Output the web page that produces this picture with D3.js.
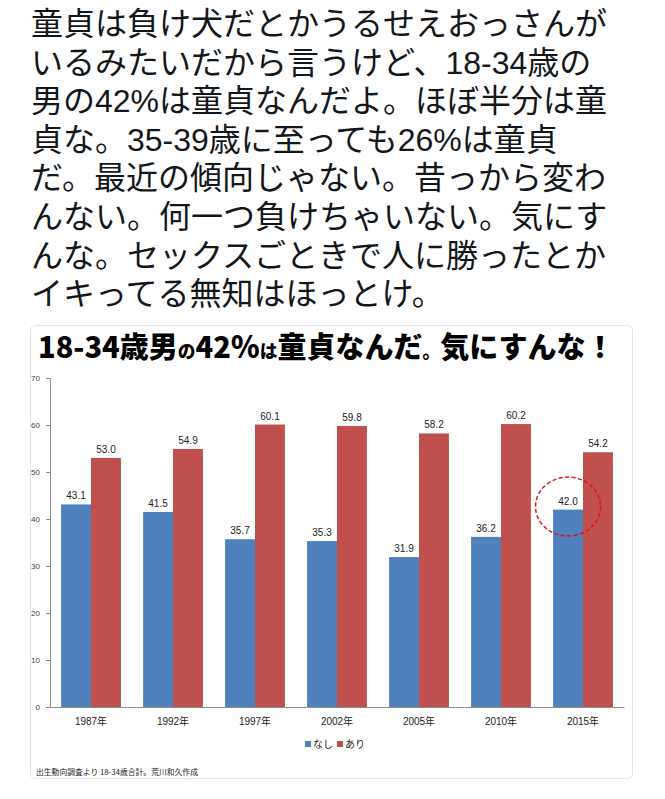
<!DOCTYPE html>
<html>
<head>
<meta charset="utf-8">
<script src="https://cdn.jsdelivr.net/npm/d3@7"></script>
<style>
  body { margin: 0; background: #fff; }
  svg { display: block; }
</style>
</head>
<body>
<div id="chart"></div>
<script>
// data
const years = ["1987年", "1992年", "1997年", "2002年", "2005年", "2010年", "2015年"];
const seriesNames = ["なし", "あり"];
const nashi = [43.1, 41.5, 35.7, 35.3, 31.9, 36.2, 42.0];
const ari = [53.0, 54.9, 60.1, 59.8, 58.2, 60.2, 54.2];
const yTicks = [0, 10, 20, 30, 40, 50, 60, 70];
const tweetLines = [
  "童貞は負け犬だとかうるせえおっさんが",
  "いるみたいだから言うけど、18-34歳の",
  "男の42%は童貞なんだよ。ほぼ半分は童",
  "貞な。35-39歳に至っても26%は童貞",
  "だ。最近の傾向じゃない。昔っから変わ",
  "んない。何一つ負けちゃいない。気にす",
  "んな。セックスごときで人に勝ったとか",
  "イキってる無知はほっとけ。"
];
const titleParts = [
  ["18-34歳男", "big"], ["の", "small"], ["42％", "big"], ["は", "small"],
  ["童貞なんだ", "big"], ["。", "small"], ["気にすんな！", "big"]
];
const sourceNote = "出生動向調査より  18-34歳合計。荒川和久作成";
const highlight = { year: "2015年", series: "なし" };

const w = 665;
const h = 799;
const plot = { left: 50, right: 624, top: 378, bottom: 707 };

const svg = d3.select("#chart")
  .append("svg")
  .attr("width", w)
  .attr("height", h);

// tweet text
svg.append("g")
  .selectAll("text")
  .data(tweetLines)
  .enter()
  .append("text")
  .attr("x", 31)
  .attr("y", (d, i) => 35 + i * 38.6)
  .attr("font-family", "'Liberation Sans', 'Noto Sans CJK JP', sans-serif")
  .attr("font-size", 32)
  .attr("fill", "#14171a")
  .text(d => d);

// card
svg.append("rect")
  .attr("x", 30.5)
  .attr("y", 325.5)
  .attr("width", 602)
  .attr("height", 453)
  .attr("rx", 5)
  .attr("fill", "#fff")
  .attr("stroke", "#dfe3e6");

// title
const title = svg.append("text")
  .attr("x", 38)
  .attr("y", 358)
  .attr("font-family", "'Noto Sans CJK JP', sans-serif")
  .attr("font-weight", 900)
  .attr("fill", "#000");

const tspans = title.selectAll("tspan")
  .data(titleParts)
  .enter()
  .append("tspan")
  .attr("font-size", d => d[1] == "big" ? 28 : 17)
  .text(d => d[0]);

// fit title to its width in the picture by font size
const k = 577 / title.node().getComputedTextLength();
tspans.attr("font-size", d => (d[1] == "big" ? 28 : 17) * k);

// scales
const x0 = d3.scaleBand()
  .domain(years)
  .range([plot.left, plot.right])
  .paddingInner(0.27)
  .paddingOuter(0.135);

const x1 = d3.scaleBand()
  .domain(seriesNames)
  .range([0, x0.bandwidth()]);

const yScale = d3.scaleLinear()
  .domain([0, 70])
  .range([plot.bottom, plot.top]);

const color = d3.scaleOrdinal()
  .domain(seriesNames)
  .range(["#4f81bd", "#c0504d"]);

// y axis
const yAxis = d3.axisLeft(yScale)
  .tickValues(yTicks)
  .tickSize(4)
  .tickPadding(6);

const gy = svg.append("g")
  .attr("transform", "translate(" + plot.left + ",0)")
  .call(yAxis);
gy.select(".domain").attr("stroke", "#8c8c8c");
gy.selectAll(".tick line").attr("stroke", "#8c8c8c");
gy.selectAll(".tick text")
  .attr("font-family", "'Liberation Sans', 'DejaVu Sans', sans-serif")
  .attr("font-size", 8)
  .attr("fill", "#404040");

// bars
const rows = years.map((yr, i) => ({ year: yr, values: [nashi[i], ari[i]] }));

const groups = svg.selectAll(".grp")
  .data(rows)
  .enter()
  .append("g")
  .attr("class", "grp")
  .attr("transform", d => "translate(" + x0(d.year) + ",0)");

const cells = groups.selectAll("g")
  .data(d => seriesNames.map((s, j) => ({ year: d.year, key: s, value: d.values[j] })))
  .enter()
  .append("g");

cells.append("rect")
  .attr("x", d => x1(d.key))
  .attr("y", d => yScale(d.value))
  .attr("width", x1.bandwidth())
  .attr("height", d => yScale(0) - yScale(d.value))
  .attr("fill", d => color(d.key));

cells.append("text")
  .attr("x", d => x1(d.key) + x1.bandwidth() / 2)
  .attr("y", d => yScale(d.value) - 5)
  .attr("text-anchor", "middle")
  .attr("font-family", "'Liberation Sans', 'DejaVu Sans', sans-serif")
  .attr("font-size", 10)
  .attr("fill", "#222")
  .text(d => d.value.toFixed(1));

// x axis
const xAxis = d3.axisBottom(x0).tickSize(0).tickPadding(11);
const gx = svg.append("g")
  .attr("transform", "translate(0," + plot.bottom + ")")
  .call(xAxis);
gx.select(".domain").attr("stroke", "#8c8c8c");
gx.selectAll(".tick text")
  .attr("font-family", "'Liberation Sans', 'Noto Sans CJK JP', sans-serif")
  .attr("font-size", 10)
  .attr("fill", "#222");

// red dashed circle round the 2015 label
const hv = nashi[years.indexOf(highlight.year)];
svg.append("ellipse")
  .attr("cx", x0(highlight.year) + x1(highlight.series) + x1.bandwidth() / 2)
  .attr("cy", yScale(hv) - 3)
  .attr("rx", 32.5)
  .attr("ry", 29.5)
  .attr("fill", "none")
  .attr("stroke", "#e8101a")
  .attr("stroke-width", 1.5)
  .attr("stroke-dasharray", "4,2.5");

// legend
const legend = svg.append("g")
  .attr("transform", "translate(305,0)");

const li = legend.selectAll("g")
  .data(seriesNames)
  .enter()
  .append("g")
  .attr("transform", (d, i) => "translate(" + (i * 32) + ",0)");

li.append("rect")
  .attr("x", 0)
  .attr("y", 741)
  .attr("width", 6)
  .attr("height", 6)
  .attr("fill", d => color(d));

li.append("text")
  .attr("x", 8)
  .attr("y", 748)
  .attr("font-family", "'Noto Sans CJK JP', sans-serif")
  .attr("font-size", 10)
  .attr("fill", "#222")
  .text(d => d);

// source note
svg.append("text")
  .attr("x", 36)
  .attr("y", 775)
  .attr("font-family", "'Noto Sans CJK JP', sans-serif")
  .attr("font-size", 7.8)
  .attr("fill", "#222")
  .text(sourceNote);
</script>
</body>
</html>
